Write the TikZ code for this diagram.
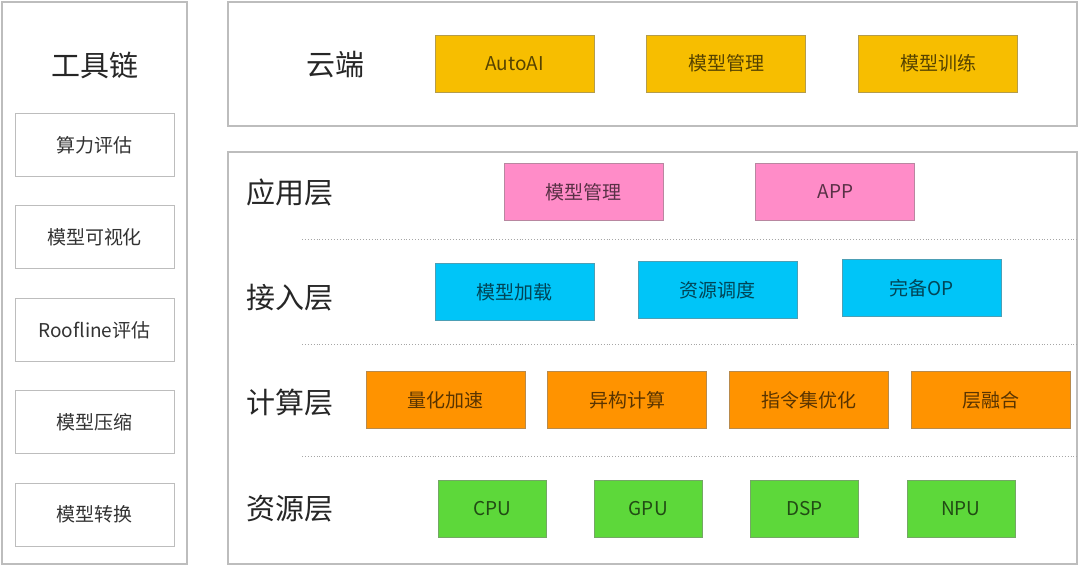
\documentclass[tikz,border=0pt]{standalone}
\usepackage{fontspec}
\setmainfont{Noto Sans CJK SC}
\usepackage{xcolor}
\usepackage{tikz}
\usetikzlibrary{positioning}
\definecolor{frame}{HTML}{BDBDBD}
\definecolor{cloudy}{HTML}{F7BE00}
\definecolor{rose}{HTML}{FF8CC8}
\definecolor{aqua}{HTML}{00C5F8}
\definecolor{tang}{HTML}{FF9300}
\definecolor{leaf}{HTML}{5DD83A}
\tikzset{
  panel/.style  ={draw=frame, line width=1.4pt, fill=white},
  tool/.style   ={draw=frame, line width=1pt, fill=white, text=black!80,
                  font=\fontsize{19}{22}\selectfont, minimum width=159pt, minimum height=63pt, inner sep=0pt},
  comp/.style   ={draw=#1!60!black!70, fill=#1, line width=0.8pt, text=#1!35!black,
                  font=\fontsize{19}{22}\selectfont, minimum width=159pt, minimum height=57pt, inner sep=0pt},
  hw/.style     ={comp=#1, minimum width=108pt},
  rowlbl/.style ={font=\fontsize{29}{32}\selectfont, text=black!85},
  sepline/.style={draw=black!35, line width=0.9pt, dotted},
}

\begin{document}
\begin{tikzpicture}[x=1pt, y=-1pt, node distance=22pt]
\useasboundingbox (0,0) rectangle (1080,566);

% ---- toolchain column
\node[panel, minimum width=185pt, minimum height=562pt] (T) at (94.5,283) {};
\node[rowlbl] (ttl) at (95,65) {工具链};
\foreach \name/\txt [count=\i from 0] in {t1/算力评估, t2/模型可视化, t3/Roofline评估, t4/模型压缩, t5/模型转换} {
  \node[tool] (\name) at (94.5,145+92.4*\i) {\txt};
}

% ---- cloud
\node[panel, minimum width=849pt, minimum height=124pt] (C) at (652.5,64) {};
\node[rowlbl] (cl) at (335,65) {云端};
\node[comp=cloudy] (auto) at (514.5,63.5) {AutoAI};
\node[comp=cloudy, right=52pt of auto] (cmgr) {模型管理};
\node[comp=cloudy, right=52pt of cmgr] (ctrain) {模型训练};

% ---- device stack
\node[panel, minimum width=849pt, minimum height=412pt] (D) at (652.5,358) {};

% application layer
\node[rowlbl] (app) at (290,192) {应用层};
\node[comp=rose] (amgr) at (583.5,192) {模型管理};
\node[comp=rose, right=92pt of amgr] (aapp) {APP};
\draw[sepline] (302,239) -- (D.east |- 0,239);

% access layer
\node[rowlbl] (acc) at (290,298) {接入层};
\node[comp=aqua] (load) at (514.5,292) {模型加载};
\node[comp=aqua] (sched) at (717.5,290) {资源调度};
\node[comp=aqua] (op) at (921.5,288) {完备OP};
\draw[sepline] (302,344) -- (D.east |- 0,344);

% compute layer
\node[rowlbl] (cmp) at (290,403) {计算层};
\node[comp=tang] (quant) at (445.5,400) {量化加速};
\node[comp=tang, right=of quant] (hetero) {异构计算};
\node[comp=tang, right=of hetero] (isa) {指令集优化};
\node[comp=tang, right=of isa] (fuse) {层融合};
\draw[sepline] (302,456) -- (D.east |- 0,456);

% resource layer
\node[rowlbl] (res) at (290,509) {资源层};
\node[hw=leaf] (cpu) at (492,508.5) {CPU};
\node[hw=leaf, right=47.5pt of cpu] (gpu) {GPU};
\node[hw=leaf, right=47.5pt of gpu] (dsp) {DSP};
\node[hw=leaf, right=47.5pt of dsp] (npu) {NPU};
\end{tikzpicture}
\end{document}
